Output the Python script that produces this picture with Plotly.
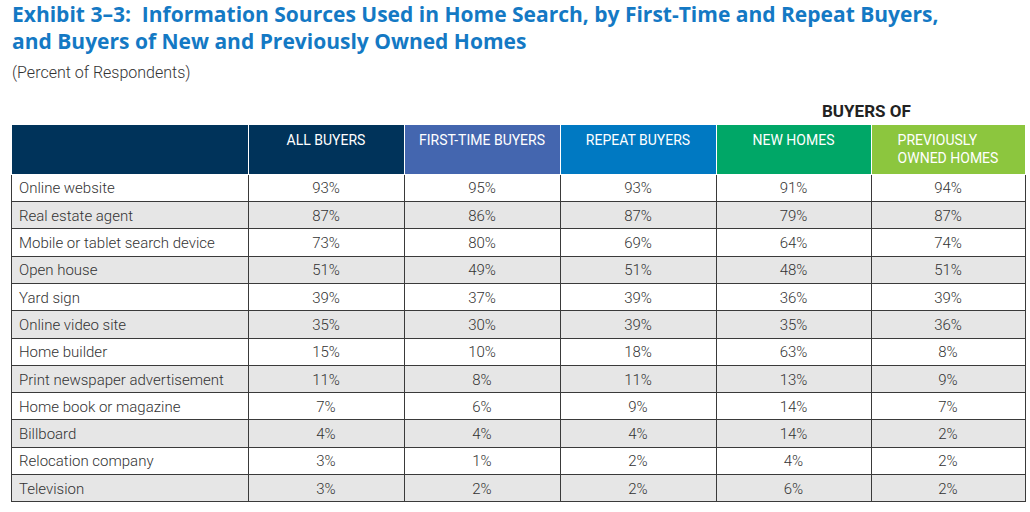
import plotly.graph_objects as go

sources = ["Online website", "Real estate agent", "Mobile or tablet search device", "Open house",
           "Yard sign", "Online video site", "Home builder", "Print newspaper advertisement",
           "Home book or magazine", "Billboard", "Relocation company", "Television"]
all_buyers = [93, 87, 73, 51, 39, 35, 15, 11, 7, 4, 3, 3]
first_time = [95, 86, 80, 49, 37, 30, 10, 8, 6, 4, 1, 2]
repeat = [93, 87, 69, 51, 39, 39, 18, 11, 9, 4, 2, 2]
new_homes = [91, 79, 64, 48, 36, 35, 63, 13, 14, 14, 4, 6]
prev_owned = [94, 87, 74, 51, 39, 36, 8, 9, 7, 2, 2, 2]
headers = ["", "ALL BUYERS", "FIRST-TIME BUYERS", "REPEAT BUYERS", "NEW HOMES", "PREVIOUSLY<br>OWNED HOMES"]

W, H = 1030, 512
header_colors = ["#00335A", "#00335A", "#4466AF", "#0079C2", "#00A767", "#8CC63E"]
row_fill = ["#FFFFFF" if i % 2 == 0 else "#E6E6E6" for i in range(len(sources))]

def pct(vals):
    return [f"{v}%" for v in vals]

header_text = [h if (h == "" or "<br>" in h) else "<br>" + h for h in headers]

fig = go.Figure(go.Table(
    domain=dict(x=[11 / W, 1025 / W], y=[0.0, 1 - 124 / H]),
    columnwidth=[237, 156, 156, 156, 155, 154],
    header=dict(
        values=header_text,
        fill_color=header_colors,
        line=dict(color="#FFFFFF", width=1),
        align="center",
        font=dict(family="Roboto", size=14, color="#FFFFFF"),
        height=46,
    ),
    cells=dict(
        values=[sources, pct(all_buyers), pct(first_time), pct(repeat), pct(new_homes), pct(prev_owned)],
        fill_color=[row_fill] * 6,
        line=dict(color="#3a3a3a", width=1),
        align=["left", "center", "center", "center", "center", "center"],
        font=dict(family="Roboto", size=15, color="#333333", weight=300),
        height=27.3,
    ),
))

fig.add_annotation(
    x=10 / W, y=1 + 2 / H, xref="paper", yref="paper", xanchor="left", yanchor="top",
    text="<b>Exhibit 3–3:\u00a0 Information Sources Used in Home Search, by First-Time and Repeat Buyers,<br>and Buyers of New and Previously Owned Homes</b>",
    showarrow=False, align="left",
    font=dict(family="Open Sans", size=21, color="#1479C4"),
)
fig.add_annotation(
    x=10 / W, y=1 - 72 / H, xref="paper", yref="paper", xanchor="left", yanchor="middle",
    text="(Percent of Respondents)", showarrow=False,
    font=dict(family="Roboto", size=16, color="#333333", weight=300),
)
fig.add_annotation(
    x=866 / W, y=1 - 111 / H, xref="paper", yref="paper", xanchor="center", yanchor="middle",
    text="<b>BUYERS OF</b>", showarrow=False,
    font=dict(family="Roboto", size=17, color="#222222"),
)

fig.update_layout(
    width=W, height=H,
    margin=dict(l=0, r=0, t=0, b=0),
    paper_bgcolor="#FFFFFF", plot_bgcolor="#FFFFFF",
)

fig.write_html("out.html", config={"displayModeBar": False},
               post_script="document.body.style.margin='0px';")
